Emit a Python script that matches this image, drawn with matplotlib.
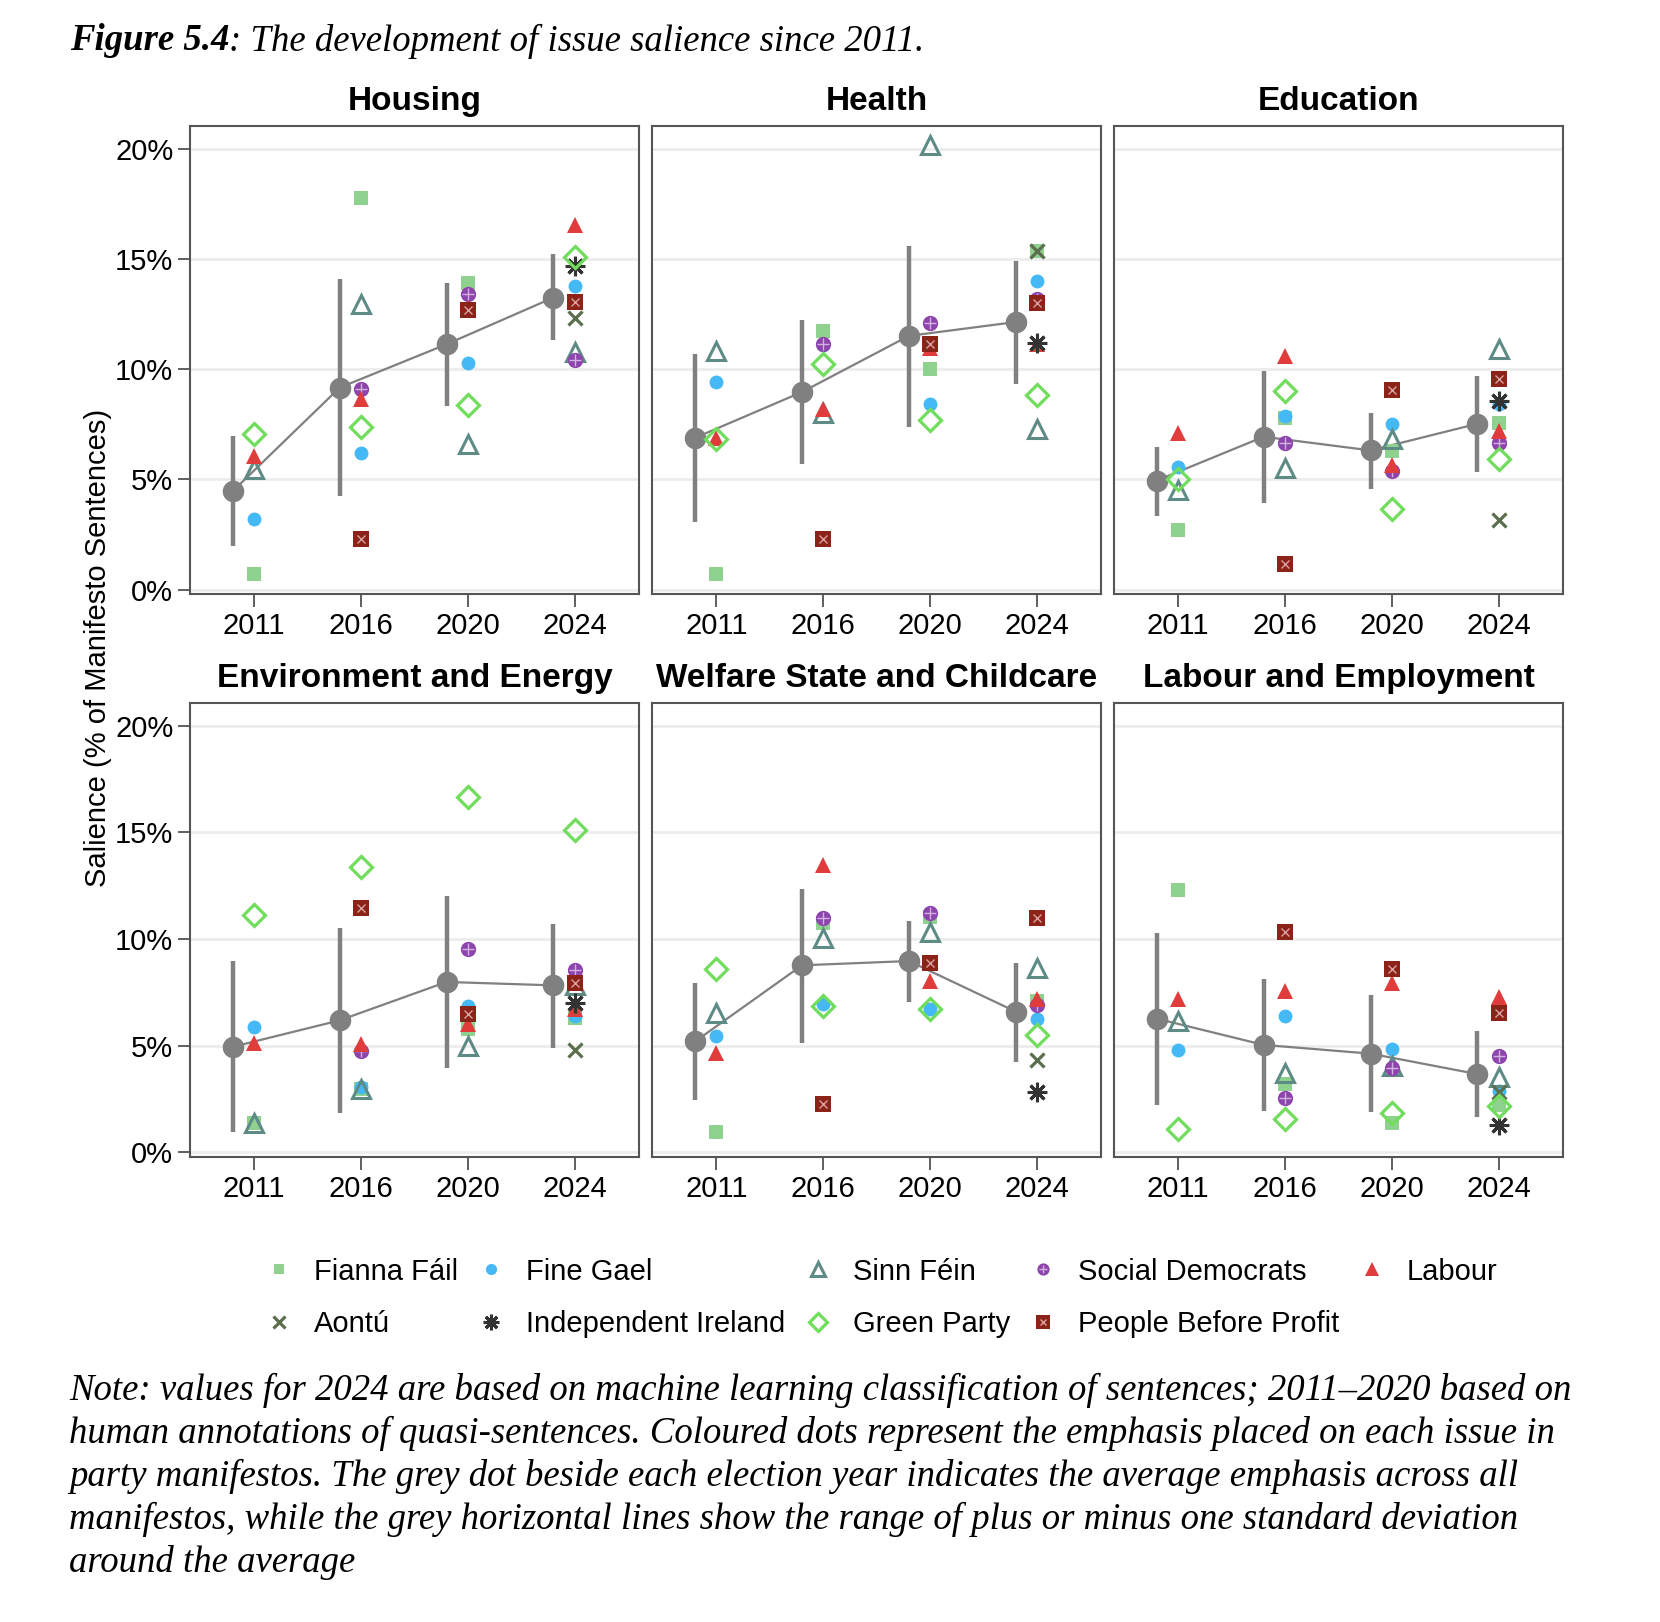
import matplotlib
matplotlib.use('Agg')
import matplotlib.pyplot as plt
from matplotlib.lines import Line2D
import numpy as np

n = np.nan

years = ['2011', '2016', '2020', '2024']
issues = ['Housing', 'Health', 'Education',
          'Environment and Energy', 'Welfare State and Childcare', 'Labour and Employment']
parties = ['Fianna Fáil', 'Fine Gael', 'Sinn Féin', 'Social Democrats', 'Labour',
           'Aontú', 'Independent Ireland', 'Green Party', 'People Before Profit']

# party values per issue (rows follow the parties list, columns follow years)
housing = [[0.73, 17.76, 13.90, 13.10],
           [3.21, 6.21, 10.30, 13.79],
           [5.48, 12.95, 6.59, 10.79],
           [n, 9.12, 13.41, 10.42],
           [6.06, 8.64, 12.80, 16.55],
           [n, n, n, 12.35],
           [n, n, n, 14.70],
           [7.05, 7.38, 8.38, 15.08],
           [n, 2.30, 12.70, 13.06]]

health = [[0.73, 11.74, 10.00, 15.38],
          [9.42, 11.10, 8.44, 14.02],
          [10.83, 8.03, 20.18, 7.30],
          [n, 11.14, 12.12, 13.18],
          [6.89, 8.18, 10.98, 11.14],
          [n, n, n, 15.38],
          [n, n, n, 11.21],
          [6.82, 10.23, 7.68, 8.82],
          [n, 2.30, 11.14, 13.03]]

education = [[2.70, 7.80, 6.29, 7.58],
             [5.56, 7.88, 7.50, 8.41],
             [4.50, 5.53, 6.82, 10.94],
             [n, 6.67, 5.38, 6.67],
             [7.12, 10.61, 5.68, 7.20],
             [n, n, n, 3.18],
             [n, n, n, 8.56],
             [5.00, 9.02, 3.64, 5.91],
             [n, 1.14, 9.06, 9.58]]

environment = [[1.40, 2.96, 5.77, 6.32],
               [5.90, 3.07, 6.86, 6.40],
               [1.36, 2.96, 4.99, 7.85],
               [n, 4.76, 9.52, 8.53],
               [5.15, 5.07, 6.00, 6.71],
               [n, n, n, 4.79],
               [n, n, n, 7.02],
               [11.15, 13.37, 16.65, 15.10],
               [n, 11.47, 6.47, 7.96]]

welfare = [[0.97, 10.76, 11.03, 7.10],
           [5.46, 6.97, 6.71, 6.27],
           [6.52, 10.03, 10.34, 8.63],
           [n, 10.97, 11.23, 6.91],
           [4.68, 13.49, 8.03, 7.18],
           [n, n, n, 4.32],
           [n, n, n, 2.81],
           [8.61, 6.86, 6.71, 5.51],
           [n, 2.29, 8.86, 11.00]]

labour_emp = [[12.28, 3.20, 1.36, 2.23],
              [4.80, 6.40, 4.84, 2.89],
              [6.16, 3.74, 4.06, 3.54],
              [n, 2.53, 3.98, 4.52],
              [7.18, 7.57, 7.96, 7.29],
              [n, n, n, 2.81],
              [n, n, n, 1.28],
              [1.09, 1.59, 1.83, 2.18],
              [n, 10.34, 8.58, 6.55]]

# average across manifestos and +/- one standard deviation, per issue
means = [[4.47, 9.17, 11.14, 13.26],
         [6.89, 8.97, 11.52, 12.15],
         [4.95, 6.94, 6.32, 7.53],
         [4.95, 6.19, 7.99, 7.83],
         [5.20, 8.77, 8.97, 6.60],
         [6.27, 5.04, 4.63, 3.67]]
sd_low = [[2.00, 4.24, 8.33, 11.32],
          [3.06, 5.71, 7.39, 9.35],
          [3.36, 3.94, 4.58, 5.33],
          [0.94, 1.87, 3.95, 4.91],
          [2.45, 5.12, 7.05, 4.26],
          [2.23, 1.92, 1.90, 1.64]]
sd_high = [[6.97, 14.09, 13.90, 15.23],
           [10.71, 12.23, 15.58, 14.92],
           [6.47, 9.92, 8.00, 9.70],
           [8.97, 10.53, 12.01, 10.72],
           [7.96, 12.37, 10.87, 8.89],
           [10.30, 8.14, 7.36, 5.69]]

panel_data = [housing, health, education, environment, welfare, labour_emp]

# marker styles for each party
styles = [
    dict(marker='s', ms=9.5, color='#8fd18f', mfc='#8fd18f', mew=0),
    dict(marker='o', ms=10, color='#45b9f5', mfc='#45b9f5', mew=0),
    dict(marker='^', ms=13, color='#5e8b85', mfc='none', mew=2.2),
    dict(marker='o', ms=11, color='#8e44ad', mfc='#8e44ad', mew=0),
    dict(marker='^', ms=12, color='#e03c3c', mfc='#e03c3c', mew=0),
    dict(marker='x', ms=10, color='#5b6f4f', mfc='none', mew=2.3),
    dict(marker=(8, 2, 0), ms=14, color='#333333', mfc='none', mew=2.2),
    dict(marker='D', ms=11, color='#70dd5c', mfc='none', mew=2.3),
    dict(marker='s', ms=12, color='#8b2318', mfc='#8b2318', mew=0),
]
# small overlays drawn on top of two of the markers
overlays = {3: dict(marker='+', ms=8, color='#d2b0e0', mew=1.0),
            8: dict(marker='x', ms=6, color='#d9a0a0', mew=1.0)}

sans = 'Liberation Sans'
serif = 'Liberation Serif'
grey = '#808080'

fig = plt.figure(figsize=(16.6, 16.22), dpi=100)
W, H = 1660, 1622

col_left = [190, 652.3, 1114]
row_bottom = [594, 1156.7]
row_height = [468, 453.4]
panel_w = 449

x = np.arange(1, 5)
axes = []
for k, issue in enumerate(issues):
    r, c = divmod(k, 3)
    ax = fig.add_axes([col_left[c] / W, 1 - row_bottom[r] / H,
                       panel_w / W, row_height[r] / H])
    axes.append(ax)

    # mean and SD bars, shifted left of the year
    xm = x - 0.2
    ax.vlines(xm, sd_low[k], sd_high[k], color=grey, lw=3.2, zorder=2)
    ax.plot(xm, means[k], color=grey, lw=1.6, zorder=2)
    ax.plot(xm, means[k], 'o', color=grey, ms=14.5, zorder=3)

    vals = panel_data[k]
    for p in range(len(parties)):
        st = styles[p]
        ax.plot(x, vals[p], ls='none', marker=st['marker'], ms=st['ms'],
                color=st['color'], mfc=st['mfc'], mec=st['color'],
                mew=st['mew'], zorder=4 + p)
        if p in overlays:
            ov = overlays[p]
            ax.plot(x, vals[p], ls='none', marker=ov['marker'], ms=ov['ms'],
                    color=ov['color'], mew=ov['mew'], zorder=4 + p)

    ax.set_xlim(0.4, 4.6)
    ax.set_ylim(-0.2, 21.05)
    ax.set_xticks(x)
    ax.set_xticklabels(years, fontsize=21, family=sans)
    ax.set_yticks([0, 5, 10, 15, 20])
    ax.set_yticklabels(['0%', '5%', '10%', '15%', '20%'], fontsize=21, family=sans)
    ax.yaxis.grid(True, color='#ececec', lw=2)
    ax.set_axisbelow(True)
    for s in ax.spines.values():
        s.set_color('#555555')
        s.set_linewidth(1.5)
    ax.tick_params(axis='both', length=9, width=1.2, color='#444444')
    ax.tick_params(axis='x', pad=4)
    ax.tick_params(axis='y', pad=3)
    if c != 0:
        ax.tick_params(axis='y', left=False, labelleft=False)

    ax.text(0.5, 1 + 25 / row_height[r], issue, transform=ax.transAxes,
            ha='center', va='center', fontsize=24, fontweight='bold', family=sans)

# y axis label
fig.text(98 / W, 1 - 648 / H, 'Salience (% of Manifesto Sentences)', rotation=90,
         ha='center', va='center', fontsize=21, family=sans)

# legend
handles = []
for p in range(len(parties)):
    st = styles[p]
    h = Line2D([], [], ls='none', marker=st['marker'], ms=st['ms'] * 0.8,
               color=st['color'], mfc=st['mfc'], mec=st['color'], mew=st['mew'])
    if p in overlays:
        ov = overlays[p]
        h2 = Line2D([], [], ls='none', marker=ov['marker'], ms=ov['ms'] * 0.8,
                    color=ov['color'], mew=ov['mew'])
        h = (h, h2)
    handles.append(h)

# reorder so that the legend fills row by row
order = [0, 5, 1, 6, 2, 7, 3, 8, 4]
fig.legend([handles[i] for i in order], [parties[i] for i in order],
           loc='center', bbox_to_anchor=(881 / W, 1 - 1298 / H), ncol=5,
           frameon=False, prop={'family': sans, 'size': 21},
           handlelength=1.0, handletextpad=0.7, columnspacing=0.62, labelspacing=0.85)

# title, with bold lead
t1 = fig.text(70 / W, 1 - 41 / H, 'Figure 5.4', fontsize=26.5, family=serif,
              style='italic', fontweight='bold', va='center')
renderer = fig.canvas.get_renderer()
bb = t1.get_window_extent(renderer)
fig.text(bb.x1 / W, 1 - 41 / H, ': The development of issue salience since 2011.',
         fontsize=26.5, family=serif, style='italic', va='center')

note = ('Note: values for 2024 are based on machine learning classification of sentences; 2011\u20132020 based on\n'
        'human annotations of quasi-sentences. Coloured dots represent the emphasis placed on each issue in\n'
        'party manifestos. The grey dot beside each election year indicates the average emphasis across all\n'
        'manifestos, while the grey horizontal lines show the range of plus or minus one standard deviation\n'
        'around the average')
fig.text(69 / W, 1 - 1373 / H, note, fontsize=26.5, family=serif, style='italic',
         va='top', ha='left', linespacing=1.29)

fig.savefig('out.png', dpi=100)
